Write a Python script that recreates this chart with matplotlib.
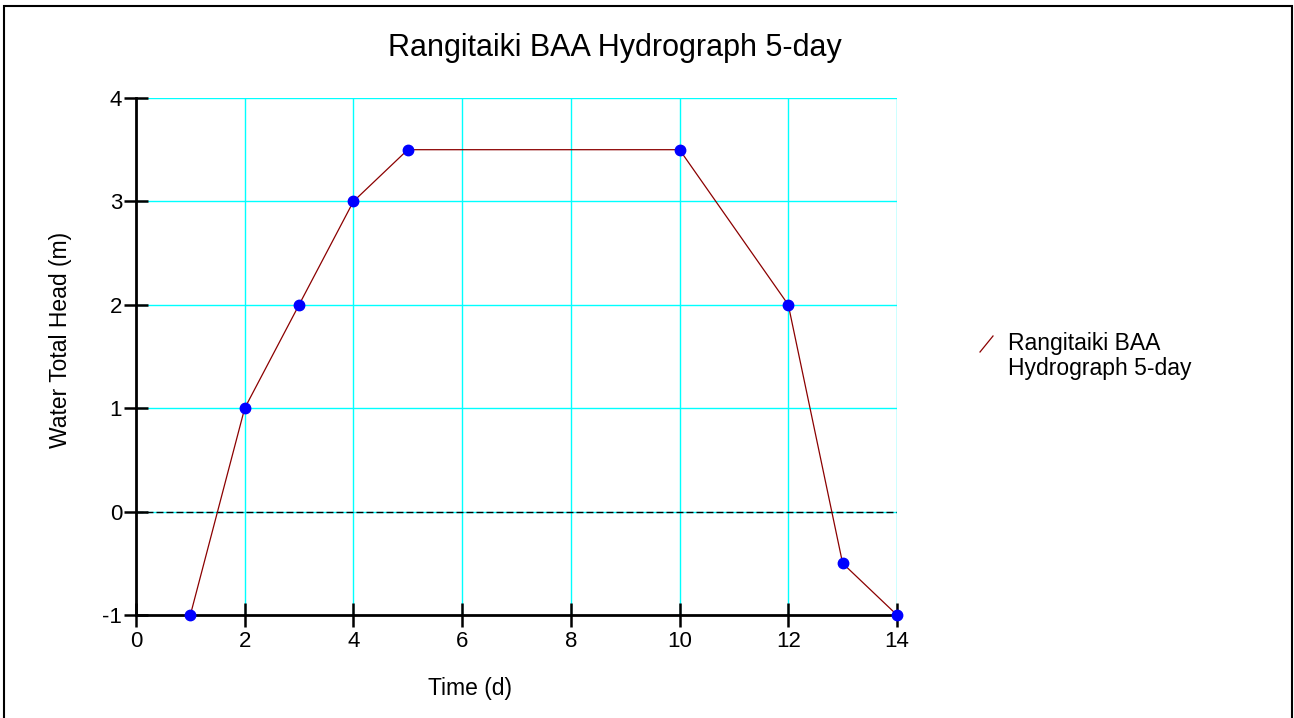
import matplotlib.pyplot as plt
from matplotlib.lines import Line2D
from matplotlib.patches import Rectangle

plt.rcParams['font.family'] = ['Liberation Sans', 'DejaVu Sans']
plt.rcParams['axes.unicode_minus'] = False

# hydrograph points: time (d) vs water total head (m)
time_d = [1, 2, 3, 4, 5, 10, 12, 13, 14]
head_m = [-1, 1, 2, 3, 3.5, 3.5, 2, -0.5, -1]
x_ticks = [0, 2, 4, 6, 8, 10, 12, 14]
y_ticks = [-1, 0, 1, 2, 3, 4]
series_name = "Rangitaiki BAA\nHydrograph 5-day"
title = "Rangitaiki BAA Hydrograph 5-day"

W, H = 1294, 718
fig = plt.figure(figsize=(W / 100, H / 100), dpi=100)
ax = fig.add_axes([136 / W, 1 - 615 / H, (897 - 136) / W, (615 - 98) / H])

# frame around the whole figure
fig.patches.append(Rectangle((4 / W, -0.01), 1288 / W, 1 - 6 / H + 0.01,
                             transform=fig.transFigure, fill=False,
                             edgecolor='black', linewidth=1.5))

ax.set_xlim(0, 14)
ax.set_ylim(-1, 4)
ax.set_xticks(x_ticks)
ax.set_yticks(y_ticks)

for x in x_ticks[1:]:
    ax.axvline(x, color='#00ffff', linewidth=1, zorder=1)
for y in y_ticks[1:]:
    ax.axhline(y, color='#00ffff', linewidth=1, zorder=1)
ax.axhline(0, color='black', linewidth=1, linestyle=(0, (5, 2.2)), zorder=1.5)

ax.plot(time_d, head_m, color='#8b0000', linewidth=0.9, zorder=3)
ax.plot(time_d, head_m, 'o', color='#0000ff', markersize=7.5, zorder=4,
        clip_on=False)

for side in ('top', 'right'):
    ax.spines[side].set_visible(False)
for side in ('left', 'bottom'):
    ax.spines[side].set_linewidth(2)
ax.tick_params(direction='inout', length=17, width=1.8, labelsize=16)
ax.tick_params(axis='x', pad=3)
ax.tick_params(axis='y', pad=1.5)

fig.text(615 / W, 1 - 48 / H, title, fontsize=22, ha='center', va='center')
fig.text(470 / W, 1 - 688 / H, "Time (d)", fontsize=16.5,
         ha='center', va='center')
fig.text(60 / W, 1 - 340 / H, "Water Total Head (m)", fontsize=16.5,
         ha='center', va='center', rotation=90)

# legend entry
fig.add_artist(Line2D([980 / W, 993 / W], [1 - 352 / H, 1 - 336 / H],
                      color='#8b0000', linewidth=0.9))
fig.text(1008 / W, 1 - 356 / H, series_name, fontsize=16.5,
         va='center', ha='left', linespacing=1.1)

fig.savefig('out.png', dpi=100)
